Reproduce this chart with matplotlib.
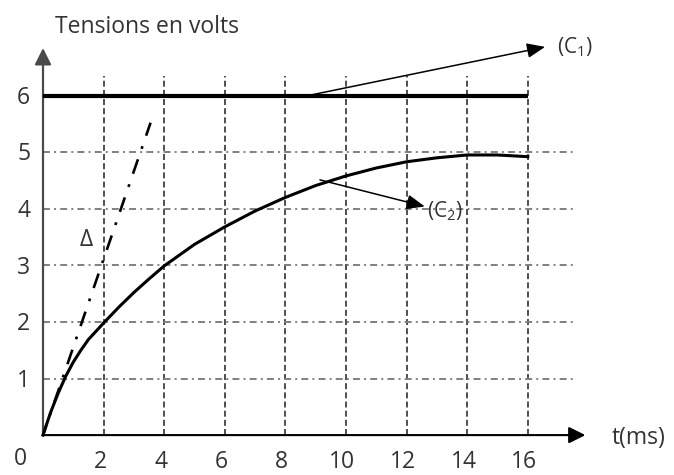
import matplotlib
matplotlib.use('Agg')
import matplotlib.pyplot as plt

# ---------------- data ----------------
x_ticks = [2, 4, 6, 8, 10, 12, 14, 16]
y_ticks = [1, 2, 3, 4, 5, 6]

# curve (C1): constant 6 V
t_c1 = [0, 16]
u_c1 = [6, 6]

# curve (C2): charging curve
t_c2 = [0, 0.25, 0.5, 0.75, 1, 1.25, 1.5, 2, 2.5, 3, 3.5, 4, 5, 6, 7, 8, 9, 10, 11, 12, 13, 14, 15, 16]
u_c2 = [0, 0.4, 0.74, 1.04, 1.29, 1.5, 1.69, 1.98, 2.26, 2.52, 2.76, 2.99, 3.37, 3.68, 3.96, 4.2,
        4.41, 4.58, 4.72, 4.83, 4.9, 4.95, 4.95, 4.92]

# tangent at origin (Delta)
t_delta = [0, 3.55]
u_delta = [0, 5.52]

title_text = "Tensions en volts"
xlabel_text = "t(ms)"

# ---------------- style ----------------
plt.rcParams['lines.scale_dashes'] = False
plt.rcParams['mathtext.fontset'] = 'custom'
plt.rcParams['mathtext.rm'] = 'Open Sans'
plt.rcParams['mathtext.it'] = 'Open Sans:italic'
FONT = ['Open Sans', 'DejaVu Sans']
TXT = '#333333'
FS = 16.5

fig = plt.figure(figsize=(6.74, 4.75), dpi=100)
ax = fig.add_axes([0, 0, 1, 1])
ax.set_xlim(-43 / 30.3, (674 - 43) / 30.3)
ax.set_ylim(-(475 - 435.1) / 56.59, 435.1 / 56.59)
ax.axis('off')

# grid
for t in x_ticks:
    ax.plot([t, t], [0, 6.35], color='#1f1f1f', lw=1.1, linestyle=(0, (4.3, 2.3)), zorder=1)
for v in y_ticks[:-1]:
    ax.plot([0, 17.55], [v, v], color='#808080', lw=1.4, linestyle=(0, (5, 3, 1.4, 3)), zorder=1)

# axes with arrows
ax.annotate('', xy=(17.9, 0), xytext=(0, 0),
            arrowprops=dict(arrowstyle='-|>,head_length=1.0,head_width=0.5', mutation_scale=10,
                            color='black', lw=1.5, shrinkA=0, shrinkB=0), zorder=3)
ax.annotate('', xy=(0, 6.84), xytext=(0, 0),
            arrowprops=dict(arrowstyle='-|>,head_length=1.0,head_width=0.5', mutation_scale=10,
                            color='#4a4a4a', lw=1.6, shrinkA=0, shrinkB=0), zorder=3)

# curves
ax.plot(t_c1, u_c1, color='black', lw=3.0, solid_capstyle='butt', zorder=4)
ax.plot(t_c2, u_c2, color='black', lw=2.2, solid_joinstyle='round', zorder=4)
ax.plot(t_delta, u_delta, color='black', lw=1.9, linestyle=(4, (11, 8, 2, 8)), zorder=4)

# annotations
ax.annotate('', xy=(16.57, 6.86), xytext=(8.75, 6.0),
            arrowprops=dict(arrowstyle='-|>,head_length=1.1,head_width=0.45', mutation_scale=10,
                            color='black', lw=1.1, shrinkA=0, shrinkB=0), zorder=5)
ax.annotate('', xy=(12.6, 4.04), xytext=(9.14, 4.51),
            arrowprops=dict(arrowstyle='-|>,head_length=1.1,head_width=0.45', mutation_scale=10,
                            color='black', lw=1.1, shrinkA=0, shrinkB=0), zorder=5)
ax.text(16.96, 6.75, '(C$_1$)', family=FONT, fontsize=15, color=TXT, ha='left', va='baseline')
ax.text(12.67, 3.84, '(C$_2$)', family=FONT, fontsize=15, color=TXT, ha='left', va='baseline')
ax.text(1.42, 3.35, 'Δ', family=FONT, fontsize=FS, color=TXT, ha='center', va='baseline')

# tick labels
for v in y_ticks:
    ax.text(-0.64, v - 0.147, str(v), family=FONT, fontsize=FS, color=TXT, ha='center', va='baseline')
ax.text(-0.76, -0.528, '0', family=FONT, fontsize=FS, color=TXT, ha='center', va='baseline')
for t in x_ticks:
    ax.text(t - 0.12, -0.59, str(t), family=FONT, fontsize=FS, color=TXT, ha='center', va='baseline')

ax.text(18.78, -0.157, xlabel_text, family=FONT, fontsize=FS, color=TXT, ha='left', va='baseline')
ax.text(0.4, 7.10, title_text, family=FONT, fontsize=FS, color=TXT, ha='left', va='baseline')

fig.savefig('out.png', dpi=100)
